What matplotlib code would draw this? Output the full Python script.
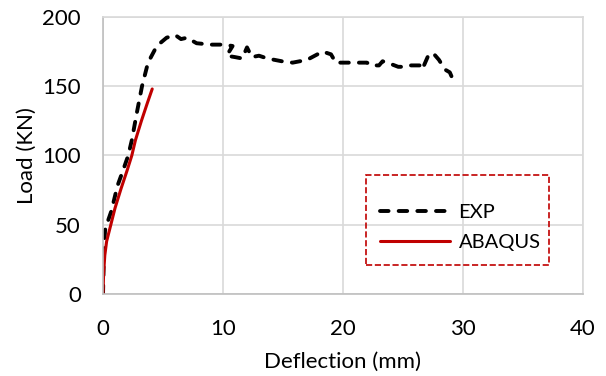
import matplotlib
matplotlib.use('Agg')
import matplotlib.pyplot as plt
from matplotlib.patches import Rectangle

# experimental load-deflection curve
exp_x = [0, 0.05, 0.1, 0.17, 0.3, 0.7, 1.2, 1.7, 2.1, 2.4, 2.8, 3.25, 3.75, 4.3, 4.75, 5.3, 6.0,
         6.5, 7.0, 7.8, 9.0, 10.1, 10.8, 10.3, 11.0, 11.6, 12.0, 12.4, 13.0, 13.7, 14.9, 15.8,
         17.0, 18.3, 19.0, 19.4, 20.0, 20.7, 21.5, 22.0, 22.3, 23.0, 23.3, 24.0, 24.6, 25.0,
         25.6, 26.4, 26.6, 27.1, 27.5, 28.0, 28.5, 28.9, 29.2]
exp_y = [0, 20, 35, 46, 50, 60, 78, 90, 100, 111, 130, 150, 167, 176, 181, 185, 187,
         184, 185, 181, 180, 180, 179, 172, 171, 170, 178, 171, 172, 170, 168, 167,
         169, 175, 173, 167, 167, 167, 167, 167, 165, 165, 168, 166, 164, 164,
         165, 165, 162, 172, 174, 169, 162, 160, 154]

# ABAQUS model curve
fe_x = [0, 0.05, 0.15, 0.3, 0.65, 1.0, 1.5, 2.0, 2.4, 2.7, 3.2, 3.7, 4.1]
fe_y = [0, 15, 28, 38, 50, 62, 76, 89, 100, 111, 125, 138, 148]

plt.rcParams['font.family'] = ['Lato', 'DejaVu Sans']

fig = plt.figure(figsize=(6.06, 3.76), dpi=100)
ax = fig.add_axes([0.17, 0.218, 0.792, 0.737])

ax.plot(exp_x, exp_y, color='black', lw=2.8, ls=(0, (2.2, 2.6)), dash_capstyle='round',
        solid_capstyle='round', label='EXP')
ax.plot(fe_x, fe_y, color='#C00000', lw=2.2, solid_capstyle='round', label='ABAQUS')

ax.set_xlim(0, 40)
ax.set_ylim(0, 200)
ax.set_xticks([0, 10, 20, 30, 40])
ax.set_yticks([0, 50, 100, 150, 200])
ax.grid(True, color='#D9D9D9', lw=1.2)
ax.set_axisbelow(True)
for s in ax.spines.values():
    s.set_color('#D9D9D9')
    s.set_linewidth(1.2)
ax.spines['left'].set_color('#BFBFBF')
ax.spines['bottom'].set_color('#BFBFBF')
ax.tick_params(length=0, labelsize=16)
ax.tick_params(axis='x', pad=18)
ax.tick_params(axis='y', pad=16)
ax.set_xlabel('Deflection (mm)', fontsize=16, labelpad=9)
ax.set_ylabel('Load (KN)', fontsize=16, labelpad=4)

# legend box drawn separately so its size matches
ax.add_patch(Rectangle((0.548, 0.105), 0.381, 0.325, transform=ax.transAxes, fill=False,
                       edgecolor='#C00000', ls='--', lw=1.2, zorder=4))
leg = ax.legend(loc='center left', bbox_to_anchor=(0.577, 0.240), frameon=False,
                fontsize=14.5, handlelength=3.5, handletextpad=0.4, labelspacing=0.62,
                borderpad=0, borderaxespad=0)
leg.set_zorder(5)

fig.savefig('out.png', dpi=100)
